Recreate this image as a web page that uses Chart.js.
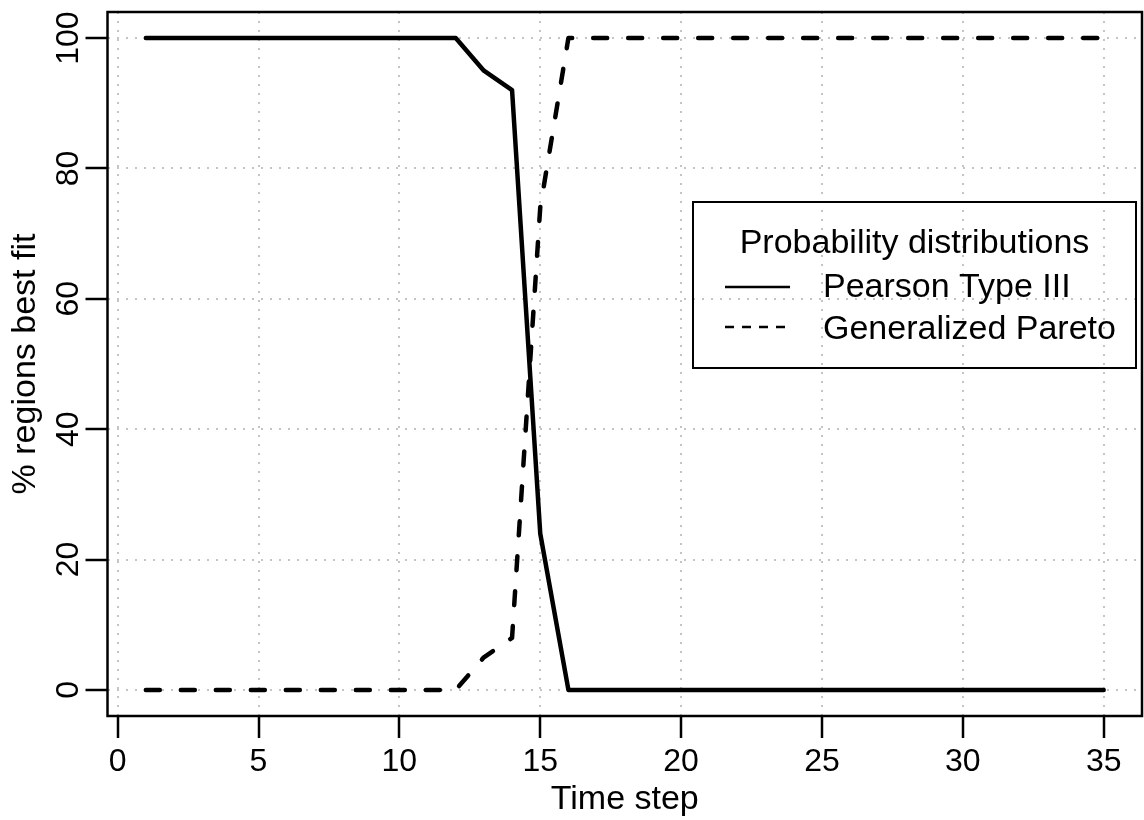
<!DOCTYPE html>
<html>
<head>
<meta charset="utf-8">
<title>% regions best fit</title>
<script src="https://cdn.jsdelivr.net/npm/chart.js@4.4.0/dist/chart.umd.min.js"></script>
<style>
  html, body { margin: 0; padding: 0; background: #fff; }
  #wrap { width: 1144px; height: 820px; position: relative; }
</style>
</head>
<body>
<div id="wrap"><canvas id="chart_main"></canvas></div>
<script>
// values
const timeSteps = [1, 2, 3, 4, 5, 6, 7, 8, 9, 10, 11, 12, 13, 14, 15, 16, 17, 18,
                   19, 20, 21, 22, 23, 24, 25, 26, 27, 28, 29, 30, 31, 32, 33, 34, 35];
const pearsonType3 = [100, 100, 100, 100, 100, 100, 100, 100, 100, 100, 100, 100, 95, 92, 24,
                      0, 0, 0, 0, 0, 0, 0, 0, 0, 0, 0, 0, 0, 0, 0, 0, 0, 0, 0, 0];
const generalizedPareto = [0, 0, 0, 0, 0, 0, 0, 0, 0, 0, 0, 0, 5, 8, 74,
                           100, 100, 100, 100, 100, 100, 100, 100, 100, 100,
                           100, 100, 100, 100, 100, 100, 100, 100, 100, 100];
const seriesNames = ['Pearson Type III', 'Generalized Pareto'];
const xTicks = [0, 5, 10, 15, 20, 25, 30, 35];
const yTicks = [0, 20, 40, 60, 80, 100];
const xRange = [-0.36, 36.36];
const yRange = [-4, 104];
const legendTitle = 'Probability distributions';

const FONT = '"Liberation Sans", Arial, Helvetica, sans-serif';

function toPoints(values) {
    return timeSteps.map((t, i) => ({x: t, y: values[i]}));
}

// box round the plot, y tick labels turned like R draws them
const frameAndLabels = {
    id: 'frameAndLabels',
    afterDraw(chart) {
        const ctx = chart.ctx;
        const a = chart.chartArea;
        const y = chart.scales.y;
        ctx.save();
        ctx.strokeStyle = '#000';
        ctx.lineWidth = 2.5;
        ctx.strokeRect(a.left, a.top, a.right - a.left, a.bottom - a.top);

        ctx.fillStyle = '#000';
        ctx.font = '32px ' + FONT;
        ctx.textAlign = 'center';
        ctx.textBaseline = 'alphabetic';
        yTicks.forEach(v => {
            ctx.save();
            ctx.translate(a.left - 30, y.getPixelForValue(v));
            ctx.rotate(-Math.PI / 2);
            ctx.fillText(String(v), 0, 0);
            ctx.restore();
        });
        ctx.restore();
    }
};

// legend box inside the plot, transparent like the original
const boxLegend = {
    id: 'boxLegend',
    afterDraw(chart) {
        const ctx = chart.ctx;
        const a = chart.chartArea;
        const right = a.right - 6, left = right - 443, top = 202, bottom = 368;
        ctx.save();
        ctx.strokeStyle = '#000';
        ctx.lineWidth = 2;
        ctx.strokeRect(left, top, right - left, bottom - top);

        ctx.fillStyle = '#000';
        ctx.font = '34px ' + FONT;
        ctx.textBaseline = 'alphabetic';
        ctx.textAlign = 'center';
        ctx.fillText(legendTitle, (left + right) / 2, 253);

        ctx.textAlign = 'left';
        chart.data.datasets.forEach((ds, i) => {
            const base = 297 + i * 42;
            const ly = base - 10 - i * 2;
            ctx.beginPath();
            ctx.setLineDash(ds.borderDash && ds.borderDash.length ? [9, 8] : []);
            ctx.lineWidth = 2.5;
            ctx.lineCap = 'butt';
            ctx.moveTo(left + 32, ly);
            ctx.lineTo(left + 97, ly);
            ctx.stroke();
            ctx.setLineDash([]);
            ctx.fillText(ds.label, left + 130, base);
        });
        ctx.restore();
    }
};

// grid lines get their dash from border.dash in v4
const gridStyle = {
    color: '#c4c4c4',
    lineWidth: 2,
    drawTicks: true,
    tickLength: 22,
    tickColor: '#000',
    tickWidth: 2.5,
    tickBorderDash: []
};
const borderStyle = {display: false, dash: [2, 7]};

const ctx = document.getElementById('chart_main').getContext('2d');
const chart = new Chart(ctx, {
    type: 'line',
    data: {
        datasets: [
            {
                label: seriesNames[0],
                data: toPoints(pearsonType3),
                borderColor: '#000',
                backgroundColor: '#000',
                borderWidth: 4.5,
                borderCapStyle: 'round',
                borderJoinStyle: 'round',
                pointRadius: 0,
                tension: 0,
                fill: false
            },
            {
                label: seriesNames[1],
                data: toPoints(generalizedPareto),
                borderColor: '#000',
                backgroundColor: '#000',
                borderWidth: 4.5,
                borderDash: [14, 21],
                borderCapStyle: 'round',
                borderJoinStyle: 'round',
                pointRadius: 0,
                tension: 0,
                fill: false
            }
        ]
    },
    options: {
        responsive: true,
        maintainAspectRatio: false,
        animation: false,
        events: [],
        layout: {padding: {left: 0, right: 2, top: 12, bottom: 0}},
        plugins: {
            legend: {display: false},
            tooltip: {enabled: false},
            title: {display: false}
        },
        scales: {
            x: {
                type: 'linear',
                min: xRange[0],
                max: xRange[1],
                z: 1,
                grid: gridStyle,
                border: borderStyle,
                ticks: {
                    color: '#000',
                    font: {family: FONT, size: 32},
                    padding: 5,
                    maxRotation: 0,
                    autoSkip: false
                },
                title: {
                    display: true,
                    text: 'Time step',
                    color: '#000',
                    font: {family: FONT, size: 34},
                    padding: {top: 2, bottom: 0}
                },
                afterBuildTicks: s => { s.ticks = xTicks.map(v => ({value: v})); },
                afterFit: s => { s.height = 104; }
            },
            y: {
                type: 'linear',
                min: yRange[0],
                max: yRange[1],
                z: 1,
                grid: gridStyle,
                border: borderStyle,
                ticks: {display: false},
                title: {
                    display: true,
                    text: '% regions best fit',
                    color: '#000',
                    font: {family: FONT, size: 34},
                    padding: {top: 5, bottom: 0}
                },
                afterBuildTicks: s => { s.ticks = yTicks.map(v => ({value: v})); },
                afterFit: s => { s.width = 107.5; }
            }
        }
    },
    plugins: [frameAndLabels, boxLegend]
});
</script>
</body>
</html>
